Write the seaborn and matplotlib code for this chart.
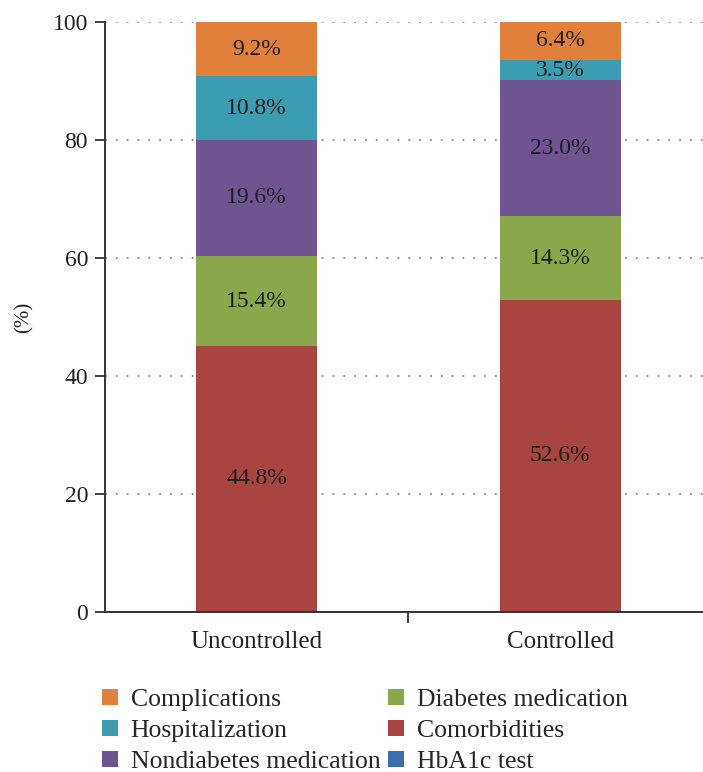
import numpy as np
import pandas as pd
import matplotlib
matplotlib.use("Agg")
import matplotlib.pyplot as plt
from matplotlib.patches import Patch
import seaborn as sns

groups = ["Uncontrolled", "Controlled"]
# stack order, bottom to top
components = ["HbA1c test", "Comorbidities", "Diabetes medication",
              "Nondiabetes medication", "Hospitalization", "Complications"]
hba1c = [0.2, 0.2]
comorbidities = [44.8, 52.6]
diabetes_med = [15.4, 14.3]
nondiabetes_med = [19.6, 23.0]
hospitalization = [10.8, 3.5]
complications = [9.2, 6.4]
colors = ["#3D6FB0", "#A84541", "#8BA74B", "#6E5592", "#3C9DB2", "#E0803A"]
y_ticks = [0, 20, 40, 60, 80, 100]

values = np.array([hba1c, comorbidities, diabetes_med, nondiabetes_med,
                   hospitalization, complications])
tops = values.cumsum(axis=0)
bottoms = tops - values

sns.set_theme(style="white")
plt.rcParams["font.family"] = ["Liberation Serif", "DejaVu Serif"]

fig = plt.figure(figsize=(7.03, 7.72), dpi=100)
ax = fig.add_axes([0.149, 0.2073, 0.864, 0.7642])

# overlay cumulative totals, tallest first, to build the stacks
for i in range(len(components) - 1, -1, -1):
    df = pd.DataFrame({"group": groups, "total": tops[i]})
    sns.barplot(data=df, x="group", y="total", color=colors[i], width=0.4,
                saturation=1, edgecolor="none", linewidth=0, ax=ax, zorder=2)

for i, name in enumerate(components):
    for j in range(len(groups)):
        if values[i, j] < 1:
            continue
        ax.text(j, bottoms[i, j] + values[i, j] / 2, f"{values[i, j]:.1f}%",
                ha="center", va="center", fontsize=17, color="#1e1e1e",
                zorder=3)

ax.set_xlim(-0.5, 1.5)
ax.set_ylim(0, 100)
ax.set_yticks(y_ticks)
ax.set_ylabel("(%)", fontsize=15, color="#222222", labelpad=14)
ax.set_xlabel("")
ax.yaxis.grid(True, linestyle=(0, (1, 5)), color="#888888", linewidth=1.3,
              zorder=0)
ax.set_axisbelow(True)
ax.xaxis.grid(False)

for s in ["top", "right"]:
    ax.spines[s].set_visible(False)
for s in ["left", "bottom"]:
    ax.spines[s].set_color("#333333")
    ax.spines[s].set_linewidth(1.4)

ax.tick_params(axis="y", which="major", direction="out", length=7, width=1.3,
               color="#333333", labelsize=17, labelcolor="#222222", left=True,
               pad=5)
ax.tick_params(axis="x", which="major", length=0, labelsize=18,
               labelcolor="#222222", pad=14)
ax.set_xticks([0.5], minor=True)
ax.tick_params(axis="x", which="minor", direction="out", length=8, width=1.3,
               color="#333333", bottom=True)

handles = [Patch(facecolor=colors[i], edgecolor="none")
           for i in range(len(components) - 1, -1, -1)]
labels = [components[i] for i in range(len(components) - 1, -1, -1)]
fig.legend(handles, labels, ncol=2, loc="upper left",
           bbox_to_anchor=(0.145, 0.108), frameon=False, fontsize=18.5,
           handlelength=0.62, handleheight=0.62, handletextpad=0.5,
           columnspacing=0.3, labelspacing=0.34, borderaxespad=0,
           borderpad=0)

fig.savefig("out.png", dpi=100)
